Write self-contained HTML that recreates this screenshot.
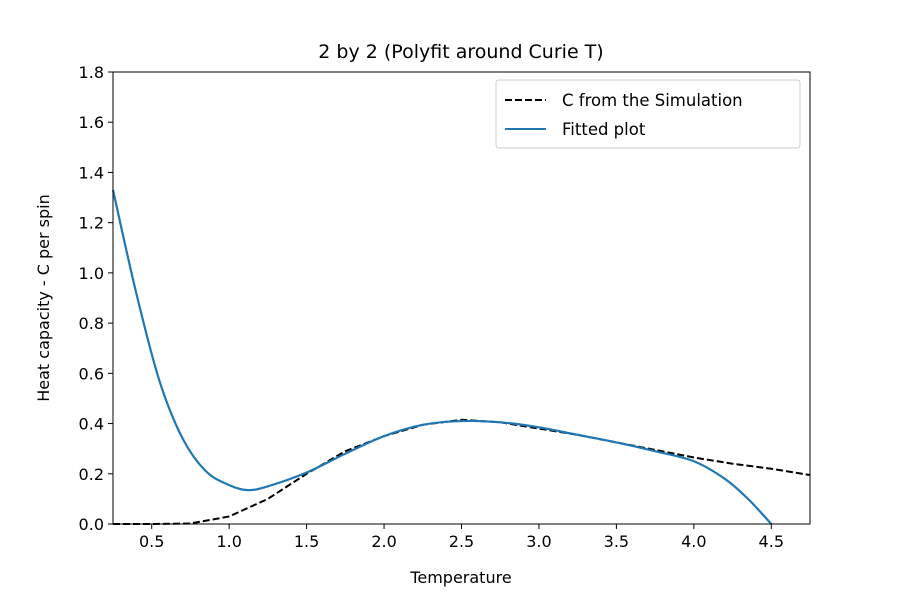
<!DOCTYPE html>
<html><head><meta charset="utf-8"><style>
body{margin:0;background:#fff}
svg text{font-family:"DejaVu Sans","Liberation Sans",sans-serif;fill:#000}
</style></head><body>
<svg id="c" width="900" height="600"></svg>
<script>
const simT=[0.25,0.5,0.75,1.0,1.25,1.5,1.75,2.0,2.25,2.5,2.75,3.0,3.25,3.5,3.75,4.0,4.25,4.5,4.75];
const simC=[0,0,0.002,0.03,0.1,0.2,0.29,0.35,0.395,0.415,0.405,0.38,0.355,0.325,0.295,0.265,0.24,0.22,0.195];
const fitT=[0.25,0.4,0.55,0.7,0.85,1.0,1.12,1.25,1.5,1.75,2.0,2.25,2.5,2.75,3.0,3.25,3.5,3.75,4.0,4.2,4.35,4.5];
const fitC=[1.33,0.92,0.57,0.34,0.21,0.155,0.135,0.15,0.205,0.28,0.35,0.395,0.41,0.405,0.385,0.355,0.325,0.29,0.25,0.18,0.1,0.0];
const xTicks=[0.5,1.0,1.5,2.0,2.5,3.0,3.5,4.0,4.5];
const yTicks=[0,0.2,0.4,0.6,0.8,1.0,1.2,1.4,1.6,1.8];
const L=113,R=810,T=72,B=524,x0=0.25,x1=4.75,y0=0,y1=1.8;
const X=v=>L+(v-x0)/(x1-x0)*(R-L), Y=v=>B-(v-y0)/(y1-y0)*(B-T);
const svg=document.getElementById('c'),NS='http://www.w3.org/2000/svg';
function mk(t,a,txt){const e=document.createElementNS(NS,t);for(const k in a)e.setAttribute(k,a[k]);if(txt!=null)e.textContent=txt;svg.appendChild(e);return e;}
function smooth(xs,ys){let p=[];for(let i=0;i<xs.length;i++)p.push([X(xs[i]),Y(ys[i])]);
let d='M'+p[0][0]+','+p[0][1];for(let i=0;i<p.length-1;i++){const a=p[Math.max(0,i-1)],b=p[i],c=p[i+1],e=p[Math.min(p.length-1,i+2)];
d+=' C'+(b[0]+(c[0]-a[0])/6)+','+(b[1]+(c[1]-a[1])/6)+' '+(c[0]-(e[0]-b[0])/6)+','+(c[1]-(e[1]-b[1])/6)+' '+c[0]+','+c[1];}return d;}
let e;
xTicks.forEach(v=>{e=mk('line',{x1:X(v),x2:X(v),y1:B,y2:B+5,stroke:'#000'});
e=mk('text',{x:X(v),y:B+23,'text-anchor':'middle','font-size':16},v.toFixed(1));});
yTicks.forEach(v=>{e=mk('line',{x1:L-5,x2:L,y1:Y(v),y2:Y(v),stroke:'#000'});
e=mk('text',{x:L-9,y:Y(v)+6,'text-anchor':'end','font-size':16},v.toFixed(1));});
let d='M'+simT.map((t,i)=>X(t)+','+Y(simC[i])).join(' L');
e=mk('path',{d:d,fill:'none',stroke:'#000','stroke-width':2,'stroke-dasharray':'7,3'});
e=mk('path',{d:smooth(fitT,fitC),fill:'none',stroke:'#1f77b4','stroke-width':2.2});
e=mk('rect',{x:L,y:T,width:R-L,height:B-T,fill:'none',stroke:'#000'});
e=mk('text',{x:461,y:58,'text-anchor':'middle','font-size':19},'2 by 2 (Polyfit around Curie T)');
e=mk('text',{x:461,y:583,'text-anchor':'middle','font-size':16},'Temperature');
e=mk('text',{x:0,y:0,'text-anchor':'middle','font-size':16,transform:'translate(49,298) rotate(-90)'},'Heat capacity - C per spin');
e=mk('rect',{x:496,y:80,width:304,height:68,rx:3,fill:'#fff',stroke:'#ccc'});
e=mk('line',{x1:505,x2:546,y1:100,y2:100,stroke:'#000','stroke-width':2,'stroke-dasharray':'7,3'});
e=mk('text',{x:562,y:106,'font-size':16.5},'C from the Simulation');
e=mk('line',{x1:505,x2:546,y1:129,y2:129,stroke:'#1f77b4','stroke-width':2});
e=mk('text',{x:562,y:135,'font-size':16.5},'Fitted plot');
</script></body></html>
